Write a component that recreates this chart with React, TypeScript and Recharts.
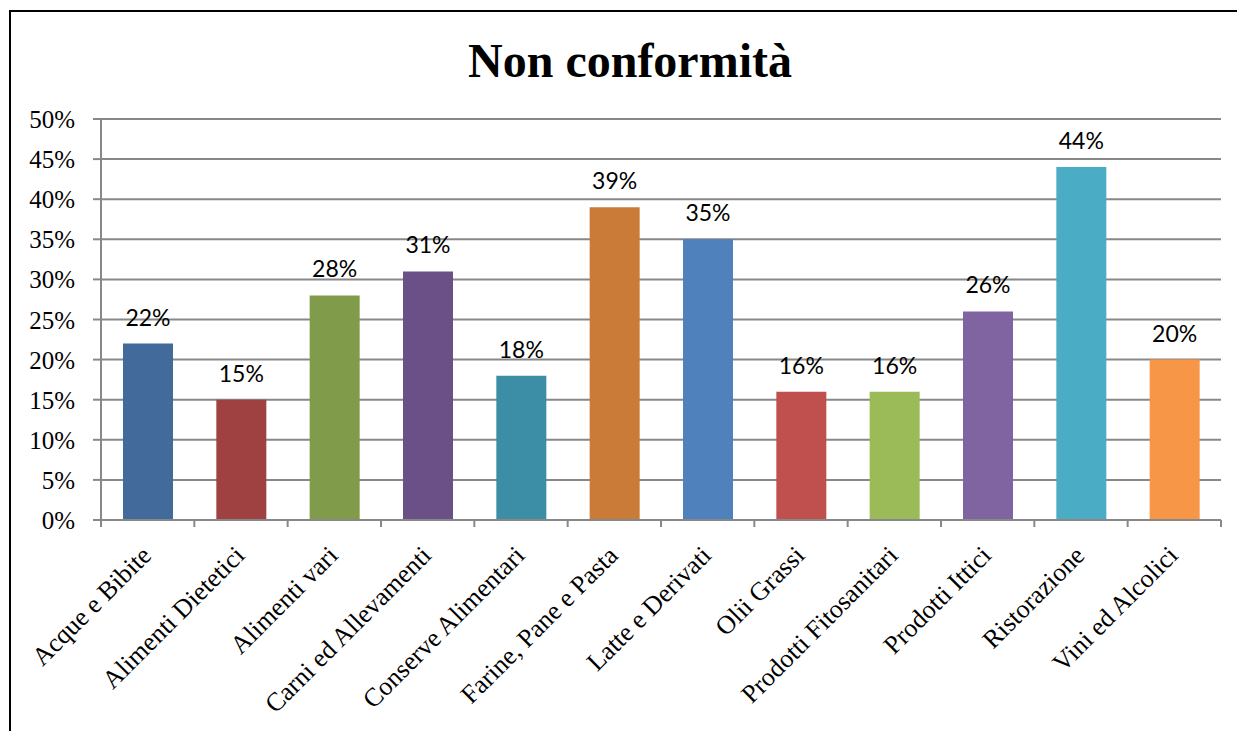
import { BarChart, Bar, XAxis, YAxis, CartesianGrid, Cell, LabelList } from 'recharts';

const categories = [
  'Acque e Bibite',
  'Alimenti Dietetici',
  'Alimenti vari',
  'Carni ed Allevamenti',
  'Conserve Alimentari',
  'Farine, Pane e Pasta',
  'Latte e Derivati',
  'Olii Grassi',
  'Prodotti Fitosanitari',
  'Prodotti Ittici',
  'Ristorazione',
  'Vini ed Alcolici',
];
const nonConformita = [22, 15, 28, 31, 18, 39, 35, 16, 16, 26, 44, 20];
const yTicks = [0, 5, 10, 15, 20, 25, 30, 35, 40, 45, 50];

const barColors = [
  '#426a9b', '#9e4140', '#809c4b', '#6a5087', '#3b8ea6', '#cb7b38',
  '#4f81bd', '#c0504d', '#9bbb59', '#8064a2', '#4bacc6', '#f79646',
];

const W = 1237;
const H = 731;
const MARGIN = { top: 119, right: 16, bottom: 0, left: 0 };
const Y_AXIS_W = 101;
const X_AXIS_H = 211;
const GRID = '#888888';
const SERIF = "'Liberation Serif', 'Times New Roman', serif";

const data = categories.map((name, i) => ({ name, value: nonConformita[i] }));
const band = (W - Y_AXIS_W - MARGIN.right) / categories.length;

function CategoryTick(props: any) {
  const { x, y, payload, index } = props;
  const left = x - band / 2;
  const right = x + band / 2;
  const tx = x + 5;
  const ty = y + 37;
  return (
    <g>
      <line x1={left} y1={y} x2={left} y2={y + 7} stroke={GRID} strokeWidth={2} />
      {index === categories.length - 1 && (
        <line x1={right} y1={y} x2={right} y2={y + 7} stroke={GRID} strokeWidth={2} />
      )}
      <text
        x={tx}
        y={ty}
        textAnchor="end"
        transform={`rotate(-45 ${tx} ${ty})`}
        style={{ fontFamily: SERIF, fontSize: 26, fill: '#000' }}
      >
        {payload.value}
      </text>
    </g>
  );
}

function PercentTick(props: any) {
  const { x, y, payload } = props;
  return (
    <text
      x={x}
      y={y + 9}
      textAnchor="end"
      style={{ fontFamily: SERIF, fontSize: 25, fill: '#000' }}
    >
      {`${payload.value}%`}
    </text>
  );
}

export default function App() {
  return (
    <div
      style={{
        position: 'fixed',
        left: 0,
        top: 0,
        width: W,
        height: H,
        overflow: 'hidden',
        background: '#fff',
      }}
    >
      <div
        style={{
          position: 'absolute',
          left: 9,
          top: 10,
          right: -20,
          bottom: -20,
          borderLeft: '2px solid #000',
          borderTop: '2px solid #000',
        }}
      />
      <div
        style={{
          position: 'absolute',
          left: 0,
          top: 37,
          width: 1260,
          textAlign: 'center',
          fontFamily: SERIF,
          fontWeight: 'bold',
          fontSize: 48,
          lineHeight: '48px',
          color: '#000',
        }}
      >
        Non conformità
      </div>
      <div style={{ position: 'absolute', left: 0, top: 0 }}>
        <BarChart width={W} height={H} data={data} margin={MARGIN}>
          <CartesianGrid vertical={false} stroke={GRID} strokeWidth={2} />
          <XAxis
            dataKey="name"
            interval={0}
            height={X_AXIS_H}
            tickSize={0}
            tickMargin={0}
            tickLine={false}
            axisLine={{ stroke: GRID, strokeWidth: 2 }}
            tick={<CategoryTick />}
          />
          <YAxis
            width={Y_AXIS_W}
            domain={[0, 50]}
            ticks={yTicks}
            interval={0}
            tickSize={8}
            tickMargin={18}
            tickLine={{ stroke: GRID, strokeWidth: 2 }}
            axisLine={{ stroke: GRID, strokeWidth: 2 }}
            tick={<PercentTick />}
          />
          <Bar dataKey="value" barSize={50} isAnimationActive={false}>
            {data.map((d, i) => (
              <Cell key={d.name} fill={barColors[i]} />
            ))}
            <LabelList
              dataKey="value"
              position="top"
              offset={18}
              formatter={(v: any) => `${v}%`}
              fill="#000"
              fontFamily="Lato, 'Open Sans', sans-serif"
              fontSize={23}
            />
          </Bar>
        </BarChart>
      </div>
    </div>
  );
}
